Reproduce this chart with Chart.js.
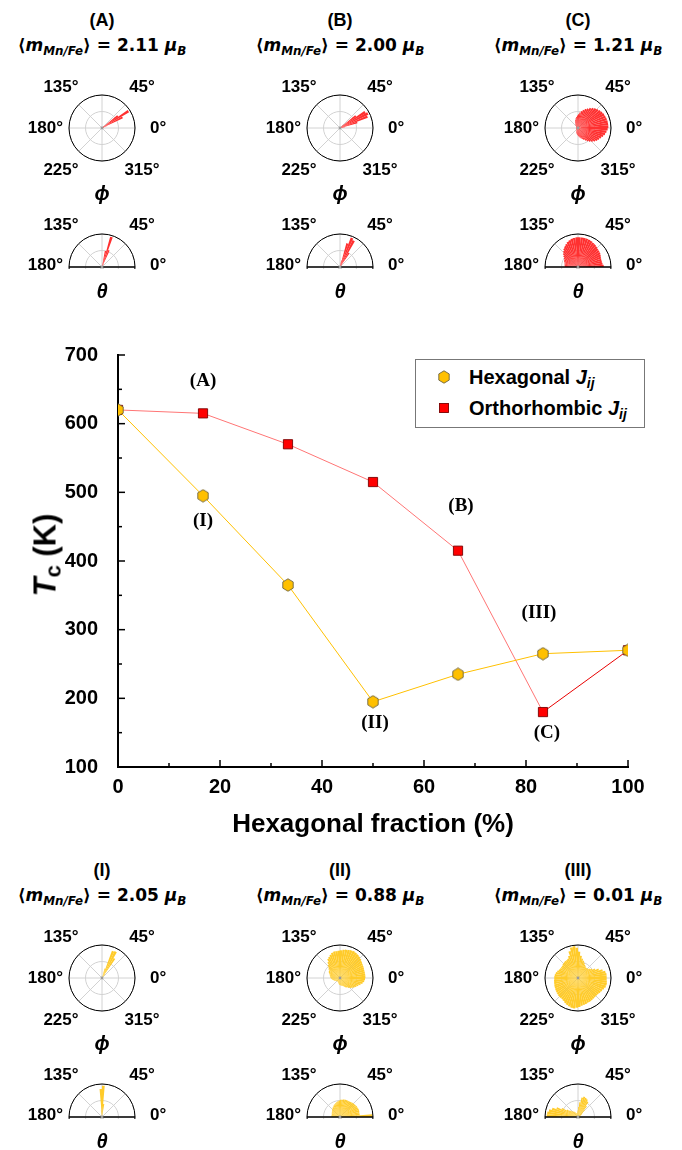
<!DOCTYPE html>
<html>
<head>
<meta charset="utf-8">
<script src="https://cdn.jsdelivr.net/npm/chart.js@4.4.1/dist/chart.umd.min.js"></script>
<style>
  html, body { margin: 0; padding: 0; background: #fff; }
  #page { position: relative; width: 682px; height: 1150px; overflow: hidden; color: #000; }
  .lbl { position: absolute; white-space: nowrap; line-height: 1; font-weight: bold; }
  .ang { font: bold 17px "Liberation Sans", Arial, sans-serif; }
  .letter { font: bold 18px "Liberation Sans", Arial, sans-serif; }
  .moment { font: bold 17px "DejaVu Sans", sans-serif; }
  .greek { font: italic bold 20px "Liberation Sans", Arial, sans-serif; }
  sub { font-size: 0.7em; vertical-align: -0.3em; line-height: 0; }
  #yTitle { position: absolute; left: 45px; top: 555px; transform: translate(-50%, -50%) rotate(-90deg);
            font: bold 31px "Liberation Sans", Arial, sans-serif; white-space: nowrap; line-height: 1; }
  #yTitle sub { font-size: 22px; vertical-align: -5px; }
  #legend { position: absolute; left: 415px; top: 359px; width: 228px; height: 67px; border: 1px solid #777; background: #fff; }
  .legRow { position: absolute; left: 0; height: 0; }
  .legRow canvas { position: absolute; }
  .legRow span { position: absolute; left: 53px; top: 0; transform: translateY(-50%); white-space: nowrap; line-height: 1;
                 font: bold 20px "Liberation Sans", Arial, sans-serif; }
  .polarBox { position: absolute; }
  .halfBox { position: absolute; width: 70px; height: 37px; overflow: hidden; }
</style>
</head>
<body>
<div id="page">
  <canvas id="mainChart" width="682" height="520" style="position:absolute;left:0;top:330px;"></canvas>
  <div id="yTitle"><i>T</i><sub>c</sub> (K)</div>
  <div id="legend">
    <div class="legRow" style="top:17px"><canvas id="legHex" width="12" height="14" style="left:22px;top:-7px"></canvas><span>Hexagonal <i>J</i><sub><i>ij</i></sub></span></div>
    <div class="legRow" style="top:48px"><canvas id="legSq" width="12" height="12" style="left:22px;top:-6px"></canvas><span>Orthorhombic <i>J</i><sub><i>ij</i></sub></span></div>
  </div>
</div>
<script>
// ---- main chart data ----
const fractions = [0, 16.67, 33.33, 50, 66.67, 83.33, 100];
const tcHexagonal = [620, 495, 365, 195, 235, 265, 270];
const tcOrthorhombic = [620, 615, 570, 515, 415, 180, 270];
const hexLabels = ['', '(I)', '', '(II)', '', '(III)', ''];
const orthoLabels = ['', '(A)', '', '', '(B)', '(C)', ''];
const xMajorTicks = [0, 20, 40, 60, 80, 100];
const xMinorTicks = [10, 30, 50, 70, 90];
const yMajorTicks = [100, 200, 300, 400, 500, 600, 700];
const yMinorTicks = [150, 250, 350, 450, 550, 650];

// ---- inset data: angle histograms, 5 degree bins, counter-clockwise from 0 deg ----
const insetLetters = ['(A)', '(B)', '(C)', '(I)', '(II)', '(III)'];
const insetMoments = ['2.11', '2.00', '1.21', '2.05', '0.88', '0.01'];

const phiA = [
  0, 0, 0, 0, 0.15, 0.7, 0.95, 0.6, 0.1, 0, 0, 0,
  0, 0, 0, 0, 0, 0, 0, 0, 0, 0, 0, 0,
  0, 0, 0, 0, 0, 0, 0, 0, 0, 0, 0, 0,
  0, 0, 0, 0, 0, 0, 0, 0, 0, 0, 0, 0,
  0, 0, 0, 0, 0, 0, 0, 0, 0, 0, 0, 0,
  0, 0, 0, 0, 0, 0, 0, 0, 0, 0, 0, 0];
const thetaA = [
  0, 0, 0, 0, 0, 0, 0, 0, 0, 0, 0, 0,
  0.1, 0.55, 0.95, 0.5, 0, 0, 0, 0, 0, 0, 0, 0,
  0, 0, 0, 0, 0, 0, 0, 0, 0, 0, 0, 0];
const phiB = [
  0, 0, 0.15, 0.55, 0.9, 0.95, 0.9, 0.6, 0.15, 0, 0, 0,
  0, 0, 0, 0, 0, 0, 0, 0, 0, 0, 0, 0,
  0, 0, 0, 0, 0, 0, 0, 0, 0, 0, 0, 0,
  0, 0, 0, 0, 0, 0, 0, 0, 0, 0, 0, 0,
  0, 0, 0, 0, 0, 0, 0, 0, 0, 0, 0, 0,
  0, 0, 0, 0, 0, 0, 0, 0, 0, 0, 0, 0];
const thetaB = [
  0, 0, 0, 0, 0, 0, 0, 0, 0, 0, 0.1, 0.5,
  0.9, 0.95, 0.75, 0.2, 0, 0, 0, 0, 0, 0, 0, 0,
  0, 0, 0, 0, 0, 0, 0, 0, 0, 0, 0, 0];
const phiC = [
  0.92, 0.92, 0.92, 0.91, 0.9, 0.89, 0.87, 0.85, 0.82, 0.79, 0.75, 0.71,
  0.66, 0.62, 0.57, 0.52, 0.47, 0.42, 0.38, 0.34, 0.3, 0.26, 0.22, 0.18,
  0.15, 0.12, 0.1, 0.08, 0.06, 0.06, 0.06, 0.06, 0.06, 0.06, 0.06, 0.06,
  0.06, 0.06, 0.06, 0.06, 0.06, 0.06, 0.06, 0.06, 0.06, 0.07, 0.08, 0.1,
  0.12, 0.14, 0.16, 0.18, 0.2, 0.22, 0.24, 0.27, 0.3, 0.33, 0.36, 0.4,
  0.45, 0.5, 0.55, 0.6, 0.65, 0.69, 0.72, 0.76, 0.8, 0.84, 0.87, 0.9];
const thetaC = [
  0.78, 0.75, 0.74, 0.74, 0.75, 0.77, 0.79, 0.8, 0.81, 0.83, 0.85, 0.86,
  0.88, 0.89, 0.9, 0.9, 0.9, 0.9, 0.9, 0.89, 0.88, 0.85, 0.82, 0.78,
  0.74, 0.7, 0.65, 0.6, 0.55, 0.5, 0.47, 0.45, 0.43, 0.42, 0.41, 0.4];
const phiI = [
  0, 0, 0, 0, 0, 0, 0, 0, 0, 0, 0.15, 0.7,
  0.9, 0.88, 0.3, 0, 0, 0, 0, 0, 0, 0, 0, 0,
  0, 0, 0, 0, 0, 0, 0, 0, 0, 0, 0, 0,
  0, 0, 0, 0, 0, 0, 0, 0, 0, 0, 0, 0,
  0, 0, 0, 0, 0, 0, 0, 0, 0, 0, 0, 0,
  0, 0, 0, 0, 0, 0, 0, 0, 0, 0, 0, 0];
const thetaI = [
  0, 0, 0, 0, 0, 0, 0, 0, 0, 0, 0, 0,
  0, 0, 0, 0, 0.4, 0.95, 0.85, 0.2, 0, 0, 0, 0,
  0, 0, 0, 0, 0, 0, 0, 0, 0, 0, 0, 0];
const phiII = [
  0.77, 0.77, 0.77, 0.77, 0.78, 0.79, 0.8, 0.82, 0.85, 0.87, 0.89, 0.9,
  0.91, 0.9, 0.89, 0.88, 0.86, 0.84, 0.83, 0.82, 0.82, 0.8, 0.76, 0.72,
  0.68, 0.6, 0.53, 0.47, 0.43, 0.4, 0.38, 0.35, 0.33, 0.31, 0.3, 0.29,
  0.27, 0.25, 0.23, 0.21, 0.2, 0.18, 0.16, 0.15, 0.14, 0.13, 0.13, 0.13,
  0.14, 0.15, 0.16, 0.18, 0.2, 0.21, 0.22, 0.23, 0.24, 0.25, 0.27, 0.3,
  0.33, 0.36, 0.4, 0.44, 0.48, 0.52, 0.56, 0.6, 0.65, 0.7, 0.74, 0.76];
const thetaII = [
  0.98, 0.6, 0.6, 0.61, 0.61, 0.6, 0.6, 0.59, 0.58, 0.57, 0.56, 0.55,
  0.55, 0.55, 0.55, 0.54, 0.53, 0.52, 0.5, 0.48, 0.46, 0.44, 0.42, 0.4,
  0.38, 0.36, 0.34, 0.32, 0.3, 0.29, 0.28, 0.27, 0.26, 0.26, 0.26, 0.26];
const phiIII = [
  0.87, 0.87, 0.85, 0.78, 0.68, 0.58, 0.5, 0.45, 0.42, 0.4, 0.4, 0.42,
  0.45, 0.5, 0.55, 0.6, 0.68, 0.8, 0.92, 0.97, 0.95, 0.85, 0.72, 0.66,
  0.64, 0.64, 0.63, 0.62, 0.6, 0.6, 0.61, 0.63, 0.66, 0.69, 0.71, 0.72,
  0.72, 0.73, 0.74, 0.75, 0.76, 0.77, 0.78, 0.79, 0.8, 0.8, 0.8, 0.82,
  0.85, 0.88, 0.9, 0.92, 0.93, 0.9, 0.88, 0.85, 0.83, 0.82, 0.8, 0.8,
  0.79, 0.78, 0.77, 0.77, 0.78, 0.8, 0.82, 0.85, 0.88, 0.89, 0.88, 0.87];
const thetaIII = [
  0.05, 0.05, 0.06, 0.07, 0.08, 0.1, 0.12, 0.15, 0.2, 0.3, 0.42, 0.55,
  0.6, 0.62, 0.64, 0.6, 0.45, 0.3, 0.2, 0.15, 0.12, 0.12, 0.13, 0.15,
  0.17, 0.2, 0.23, 0.27, 0.32, 0.4, 0.55, 0.7, 0.82, 0.9, 0.94, 0.95];

const phiSeries = [phiA, phiB, phiC, phiI, phiII, phiIII];
const thetaSeries = [thetaA, thetaB, thetaC, thetaI, thetaII, thetaIII];

const RED = '#FF3030';
const YELLOW = '#FFCB2A';
const FONT = '"Liberation Sans", Arial, sans-serif';

// hexagon marker (pointy top) used as a point style
function makeHexagon(canvas) {
  const c = canvas || document.createElement('canvas');
  c.width = 12; c.height = 14;
  const g = c.getContext('2d');
  g.beginPath();
  g.moveTo(6, 0.8); g.lineTo(11.2, 3.9); g.lineTo(11.2, 10.1);
  g.lineTo(6, 13.2); g.lineTo(0.8, 10.1); g.lineTo(0.8, 3.9); g.closePath();
  g.fillStyle = '#FFC000'; g.fill();
  g.strokeStyle = '#6e6440'; g.lineWidth = 0.9; g.stroke();
  return c;
}
const hexMarker = makeHexagon();
makeHexagon(document.getElementById('legHex'));
(function () {
  const g = document.getElementById('legSq').getContext('2d');
  g.fillStyle = '#FF0000'; g.fillRect(1.5, 1.5, 9, 9);
  g.strokeStyle = '#7a0000'; g.lineWidth = 0.9; g.strokeRect(1.5, 1.5, 9, 9);
})();

// inward tick marks like the original plot
const innerTicks = {
  id: 'innerTicks',
  afterDraw(chart) {
    const { ctx, chartArea: a, scales: { x, y } } = chart;
    ctx.save();
    ctx.strokeStyle = '#000';
    ctx.lineWidth = 1.5;
    const mark = (x1, y1, x2, y2) => { ctx.beginPath(); ctx.moveTo(x1, y1); ctx.lineTo(x2, y2); ctx.stroke(); };
    xMajorTicks.forEach(v => { const p = x.getPixelForValue(v); mark(p, a.bottom, p, a.bottom - 7); });
    xMinorTicks.forEach(v => { const p = x.getPixelForValue(v); mark(p, a.bottom, p, a.bottom - 4); });
    yMajorTicks.forEach(v => { const p = y.getPixelForValue(v); mark(a.left, p, a.left + 7, p); });
    yMinorTicks.forEach(v => { const p = y.getPixelForValue(v); mark(a.left, p, a.left + 4, p); });
    ctx.restore();
  }
};

// (A), (I) ... labels next to the points
const labelOffsets = {
  '(A)': [0, -32], '(B)': [3, -45], '(C)': [4, 21],
  '(I)': [0, 25], '(II)': [2, 21], '(III)': [-4, -41]
};
const pointLabels = {
  id: 'pointLabels',
  afterDatasetsDraw(chart) {
    const { ctx, scales: { x, y } } = chart;
    ctx.save();
    ctx.font = 'bold 19px "Liberation Serif", "Times New Roman", serif';
    ctx.fillStyle = '#000';
    ctx.textAlign = 'center';
    ctx.textBaseline = 'middle';
    [[tcHexagonal, hexLabels], [tcOrthorhombic, orthoLabels]].forEach(([vals, labs]) => {
      labs.forEach((t, i) => {
        if (!t) return;
        const off = labelOffsets[t];
        ctx.fillText(t, x.getPixelForValue(fractions[i]) + off[0], y.getPixelForValue(vals[i]) + off[1]);
      });
    });
    ctx.restore();
  }
};

const tickFont = { family: FONT, size: 20, weight: 'bold' };

new Chart(document.getElementById('mainChart'), {
  type: 'line',
  data: {
    datasets: [
      {
        label: 'Hexagonal Jij',
        data: fractions.map((f, i) => ({ x: f, y: tcHexagonal[i] })),
        borderColor: '#FFC000',
        borderWidth: 1,
        pointStyle: hexMarker,
        pointRadius: 6,
        tension: 0
      },
      {
        label: 'Orthorhombic Jij',
        data: fractions.map((f, i) => ({ x: f, y: tcOrthorhombic[i] })),
        borderColor: '#FF7575',
        borderWidth: 1,
        segment: { borderColor: c => (c.p1DataIndex === fractions.length - 1 ? '#E80000' : '#FF7575') },
        pointStyle: 'rect',
        pointRadius: 6.5,
        pointBackgroundColor: '#FF0000',
        pointBorderColor: '#7a0000',
        pointBorderWidth: 0.9,
        tension: 0
      }
    ]
  },
  options: {
    responsive: false,
    animation: false,
    events: [],
    layout: { padding: { left: 0, right: 54, top: 25, bottom: 6 } },
    plugins: { legend: { display: false }, tooltip: { enabled: false } },
    scales: {
      x: {
        type: 'linear', min: 0, max: 100,
        ticks: { stepSize: 20, padding: 0, color: '#000', font: tickFont },
        grid: { display: false },
        border: { display: true, color: '#000', width: 2 },
        title: { display: true, text: 'Hexagonal fraction (%)', color: '#000',
                 font: { family: FONT, size: 26, weight: 'bold' }, padding: { top: 4, bottom: 4 } },
        afterFit(s) { s.height = 77; }
      },
      y: {
        min: 100, max: 700,
        ticks: { stepSize: 100, padding: 12, color: '#000', font: tickFont },
        grid: { display: false },
        border: { display: true, color: '#000', width: 2 },
        afterFit(s) { s.width = 118; }
      }
    }
  },
  plugins: [innerTicks, pointLabels]
});

// ---- polar insets ----
const binLabels = phiA.map((_, k) => (5 * k) + '°');
const spokeAngles = [0, 45, 90, 135, 180, 225, 270, 315];

const polarFrame = {
  id: 'polarFrame',
  beforeDatasetsDraw(chart) {
    const s = chart.scales.r, ctx = chart.ctx;
    ctx.save();
    ctx.strokeStyle = '#d2d2d2';
    ctx.lineWidth = 1;
    spokeAngles.forEach(a => {
      const r = a * Math.PI / 180;
      ctx.beginPath();
      ctx.moveTo(s.xCenter, s.yCenter);
      ctx.lineTo(s.xCenter + s.drawingArea * Math.cos(r), s.yCenter - s.drawingArea * Math.sin(r));
      ctx.stroke();
    });
    ctx.restore();
  },
  afterDatasetsDraw(chart, args, opts) {
    const s = chart.scales.r, ctx = chart.ctx;
    ctx.save();
    ctx.strokeStyle = '#000';
    ctx.lineWidth = 1;
    ctx.beginPath();
    ctx.arc(s.xCenter, s.yCenter, s.drawingArea, 0, 2 * Math.PI);
    ctx.stroke();
    if (opts.half) {
      ctx.lineWidth = 1.3;
      ctx.beginPath();
      ctx.moveTo(s.xCenter - s.drawingArea, s.yCenter);
      ctx.lineTo(s.xCenter + s.drawingArea, s.yCenter);
      ctx.stroke();
    }
    ctx.fillStyle = '#9a9a9a';
    ctx.beginPath();
    ctx.arc(s.xCenter, s.yCenter, 1.4, 0, 2 * Math.PI);
    ctx.fill();
    ctx.restore();
  }
};

function drawPolar(canvas, values, color, half) {
  // the lower half of a theta plot is empty
  const full = half ? values.concat(values.map(() => 0)) : values;
  new Chart(canvas, {
    type: 'polarArea',
    data: {
      labels: binLabels.slice().reverse(),
      datasets: [{ data: full.slice().reverse(), backgroundColor: color, borderWidth: 0 }]
    },
    options: {
      responsive: false,
      animation: false,
      events: [],
      layout: { padding: 2 },
      plugins: { legend: { display: false }, tooltip: { enabled: false }, polarFrame: { half } },
      scales: {
        r: {
          min: 0, max: 1, startAngle: 90,
          ticks: { display: false, stepSize: 0.5 },
          angleLines: { display: false },
          pointLabels: { display: false },
          grid: { circular: true, color: '#d2d2d2', lineWidth: 1 }
        }
      }
    },
    plugins: [polarFrame]
  });
}

const page = document.getElementById('page');
function place(html, x, y, cls, anchor) {
  const el = document.createElement('div');
  el.className = 'lbl ' + cls;
  el.innerHTML = html;
  el.style.left = x + 'px';
  el.style.top = y + 'px';
  el.style.transform = anchor === 'right' ? 'translate(-100%,-50%)'
    : anchor === 'left' ? 'translate(0,-50%)' : 'translate(-50%,-50%)';
  page.appendChild(el);
}

const columns = [102, 340, 578];
const rows = [0, 850];

insetLetters.forEach((letter, i) => {
  const cx = columns[i % 3];
  const top = rows[Math.floor(i / 3)];
  const color = i < 3 ? RED : YELLOW;

  place(letter, cx, top + 20, 'letter');
  place('⟨<i>m</i><sub><i>Mn/Fe</i></sub>⟩ = ' + insetMoments[i] + ' <i>μ</i><sub><i>B</i></sub>', cx, top + 45, 'moment');

  // phi: full circle
  const pc = document.createElement('canvas');
  pc.width = 70; pc.height = 70;
  pc.className = 'polarBox';
  pc.style.left = (cx - 35) + 'px';
  pc.style.top = (top + 128 - 35) + 'px';
  page.appendChild(pc);
  drawPolar(pc, phiSeries[i], color, false);

  place('135°', cx - 41, top + 87, 'ang');
  place('45°', cx + 40, top + 87, 'ang');
  place('180°', cx - 39, top + 128, 'ang', 'right');
  place('0°', cx + 48, top + 128, 'ang', 'left');
  place('225°', cx - 41, top + 170, 'ang');
  place('315°', cx + 40, top + 170, 'ang');
  place('ϕ', cx, top + 193, 'greek');

  // theta: upper half circle
  const box = document.createElement('div');
  box.className = 'halfBox';
  box.style.left = (cx - 35) + 'px';
  box.style.top = (top + 267 - 35) + 'px';
  const tc = document.createElement('canvas');
  tc.width = 70; tc.height = 70;
  box.appendChild(tc);
  page.appendChild(box);
  drawPolar(tc, thetaSeries[i], color, true);

  place('135°', cx - 41, top + 225, 'ang');
  place('45°', cx + 40, top + 225, 'ang');
  place('180°', cx - 39, top + 265, 'ang', 'right');
  place('0°', cx + 48, top + 265, 'ang', 'left');
  place('θ', cx, top + 291, 'greek');
});
</script>
</body>
</html>
